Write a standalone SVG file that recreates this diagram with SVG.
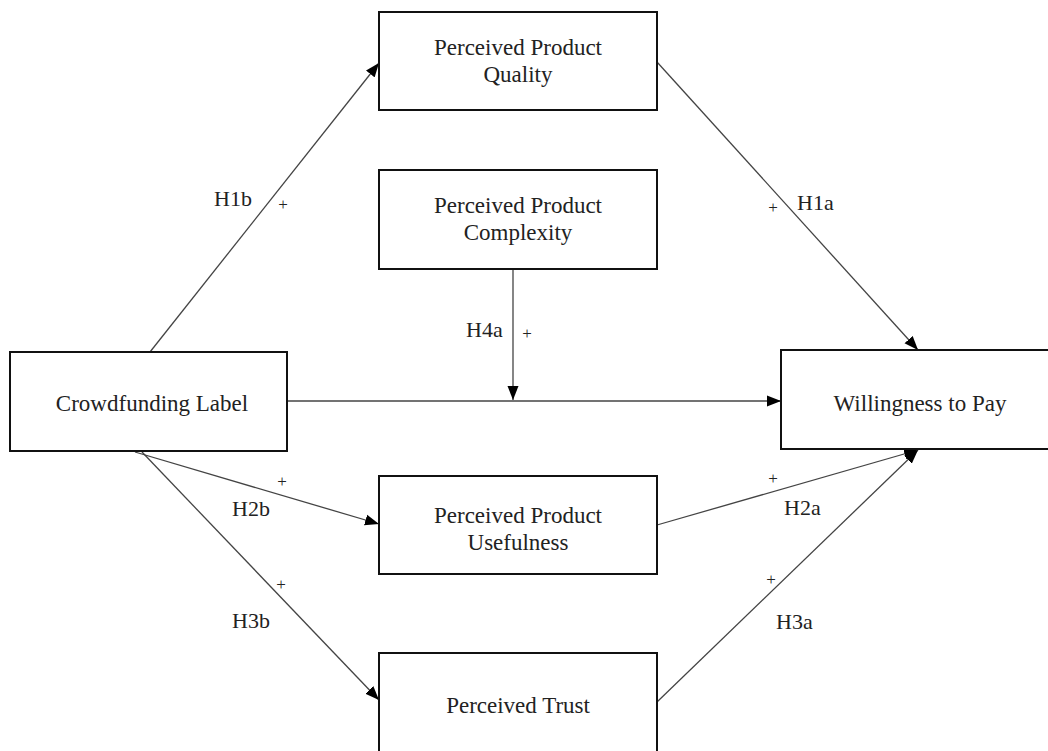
<svg xmlns="http://www.w3.org/2000/svg" width="1048" height="751" viewBox="0 0 1048 751">
<style>
.box{fill:#fff;stroke:#111;stroke-width:2}
.t{font-family:"Liberation Serif","Times New Roman",serif;font-size:23px;fill:#222;text-anchor:middle}
.lbl{font-family:"Liberation Serif","Times New Roman",serif;font-size:22px;fill:#222}
.pl{font-family:"Liberation Serif","Times New Roman",serif;font-size:17px;fill:#222;text-anchor:middle}
.c{fill:none;stroke:#444;stroke-width:1.3}
</style>
<defs>
<marker id="ah" markerUnits="userSpaceOnUse" markerWidth="15" markerHeight="12" refX="14" refY="6" orient="auto">
<path d="M0,0.5 L14,6 L0,11.5 z" fill="#000"/>
</marker>
</defs>
<rect width="1048" height="751" fill="#fff"/>
<g id="connectors">
<line class="c" x1="150" y1="352" x2="379" y2="63" marker-end="url(#ah)"/>
<line class="c" x1="657" y1="62" x2="918" y2="350" marker-end="url(#ah)"/>
<line class="c" x1="287" y1="401" x2="781" y2="401" marker-end="url(#ah)"/>
<line class="c" x1="513" y1="269" x2="513" y2="400" marker-end="url(#ah)"/>
<line class="c" x1="135" y1="452" x2="379" y2="524" marker-end="url(#ah)"/>
<line class="c" x1="142" y1="452" x2="379" y2="700" marker-end="url(#ah)"/>
<line class="c" x1="657" y1="525" x2="918" y2="450" marker-end="url(#ah)"/>
<line class="c" x1="657" y1="702" x2="918" y2="450" marker-end="url(#ah)"/>
</g>
<g id="labels">
<text class="lbl" x="214" y="206">H1b</text>
<text class="pl" x="283" y="210">+</text>
<text class="pl" x="773" y="213">+</text>
<text class="lbl" x="797" y="210">H1a</text>
<text class="lbl" x="466" y="337">H4a</text>
<text class="pl" x="527" y="339">+</text>
<text class="pl" x="282" y="487">+</text>
<text class="lbl" x="232" y="516">H2b</text>
<text class="pl" x="281" y="590">+</text>
<text class="lbl" x="232" y="628">H3b</text>
<text class="pl" x="773" y="484">+</text>
<text class="lbl" x="784" y="515">H2a</text>
<text class="pl" x="771" y="585">+</text>
<text class="lbl" x="776" y="629">H3a</text>
</g>
<g id="ppq">
<rect class="box" x="379" y="12" width="278" height="98"/>
<text class="t" x="518" y="55">Perceived Product</text>
<text class="t" x="518" y="82">Quality</text>
</g>
<g id="ppc">
<rect class="box" x="379" y="170" width="278" height="99"/>
<text class="t" x="518" y="213">Perceived Product</text>
<text class="t" x="518" y="240">Complexity</text>
</g>
<g id="cl">
<rect class="box" x="10" y="352" width="277" height="99"/>
<text class="t" x="152" y="411">Crowdfunding Label</text>
</g>
<g id="wtp">
<rect class="box" x="781" y="350" width="280" height="99"/>
<text class="t" x="920" y="411">Willingness to Pay</text>
</g>
<g id="ppu">
<rect class="box" x="379" y="476" width="278" height="98"/>
<text class="t" x="518" y="523">Perceived Product</text>
<text class="t" x="518" y="550">Usefulness</text>
</g>
<g id="pt">
<rect class="box" x="379" y="653" width="278" height="100"/>
<text class="t" x="518" y="713">Perceived Trust</text>
</g>
</svg>
